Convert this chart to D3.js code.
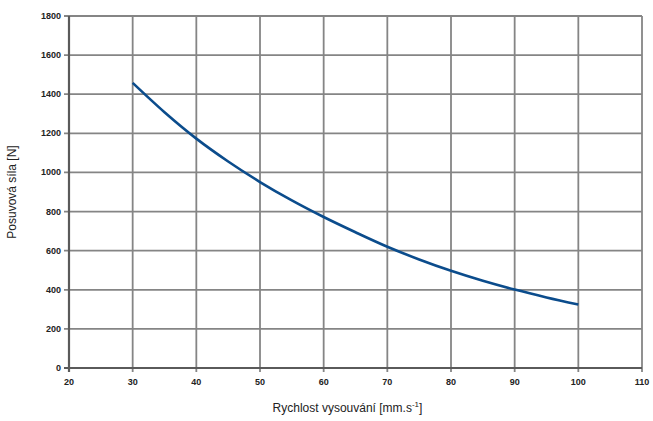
<!DOCTYPE html>
<html><head><meta charset="utf-8">
<script src="https://cdn.jsdelivr.net/npm/d3@7/dist/d3.min.js"></script>
<style>body{margin:0;background:#fff}svg{display:block}</style>
</head><body><svg id="c" width="653" height="421"></svg>
<script>
const speeds = [30,35,40,45,50,55,60,65,70,75,80,85,90,95,100];
const forces = [1458,1308,1173,1056,951,857,772,694,620,555,497,446,401,361,325];
const xTicks = [20,30,40,50,60,70,80,90,100,110];
const yTicks = [0,200,400,600,800,1000,1200,1400,1600,1800];
const xTitle = "Rychlost vysouvání [mm.s";
const yTitle = "Posuvová síla [N]";

const svg = d3.select("#c");
const L=69, R=642, T=16, B=368;
const x = d3.scaleLinear().domain([20,110]).range([L,R]);
const y = d3.scaleLinear().domain([0,1800]).range([B,T]);
const grid="#858585";
const g = svg.append("g");
g.selectAll(".vx").data(xTicks).join("line")
 .attr("x1",d=>x(d)).attr("x2",d=>x(d)).attr("y1",T).attr("y2",B+4)
 .attr("stroke",grid).attr("stroke-width",1.8);
g.selectAll(".hy").data(yTicks).join("line")
 .attr("y1",d=>y(d)).attr("y2",d=>y(d)).attr("x1",L-5).attr("x2",R)
 .attr("stroke",grid).attr("stroke-width",1.8);
g.append("line").attr("x1",L-5).attr("x2",R).attr("y1",B).attr("y2",B).attr("stroke","#5a5a5a").attr("stroke-width",2.2);
g.append("line").attr("x1",L).attr("x2",L).attr("y1",T).attr("y2",B+4).attr("stroke","#5a5a5a").attr("stroke-width",2.2);

g.selectAll(".xl").data(xTicks).join("text")
 .attr("x",d=>x(d)).attr("y",B+17).attr("text-anchor","middle")
 .attr("font-family","Liberation Sans, Arial, sans-serif").attr("font-size",9).attr("font-weight","bold").attr("fill","#222")
 .text(d=>d);
g.selectAll(".yl").data(yTicks).join("text")
 .attr("x",L-8).attr("y",d=>y(d)+3).attr("text-anchor","end")
 .attr("font-family","Liberation Sans, Arial, sans-serif").attr("font-size",9).attr("font-weight","bold").attr("fill","#222")
 .text(d=>d);

const line = d3.line().x((d,i)=>x(speeds[i])).y(d=>y(d)).curve(d3.curveMonotoneX);
svg.append("path").attr("d",line(forces)).attr("fill","none").attr("stroke","#0b4c8c").attr("stroke-width",2.6);

const xt = svg.append("text").attr("x",(L+R)/2-8).attr("y",412).attr("text-anchor","middle")
 .attr("font-family","Liberation Sans, Arial, sans-serif").attr("font-size",12).attr("fill","#222");
xt.append("tspan").text(xTitle);
xt.append("tspan").attr("dy",-5).attr("font-size",8).text("-1");
xt.append("tspan").attr("dy",5).text("]");
svg.append("text").attr("transform",`translate(16,${(T+B)/2}) rotate(-90)`).attr("text-anchor","middle")
 .attr("font-family","Liberation Sans, Arial, sans-serif").attr("font-size",12).attr("fill","#222").text(yTitle);
</script></body></html>
